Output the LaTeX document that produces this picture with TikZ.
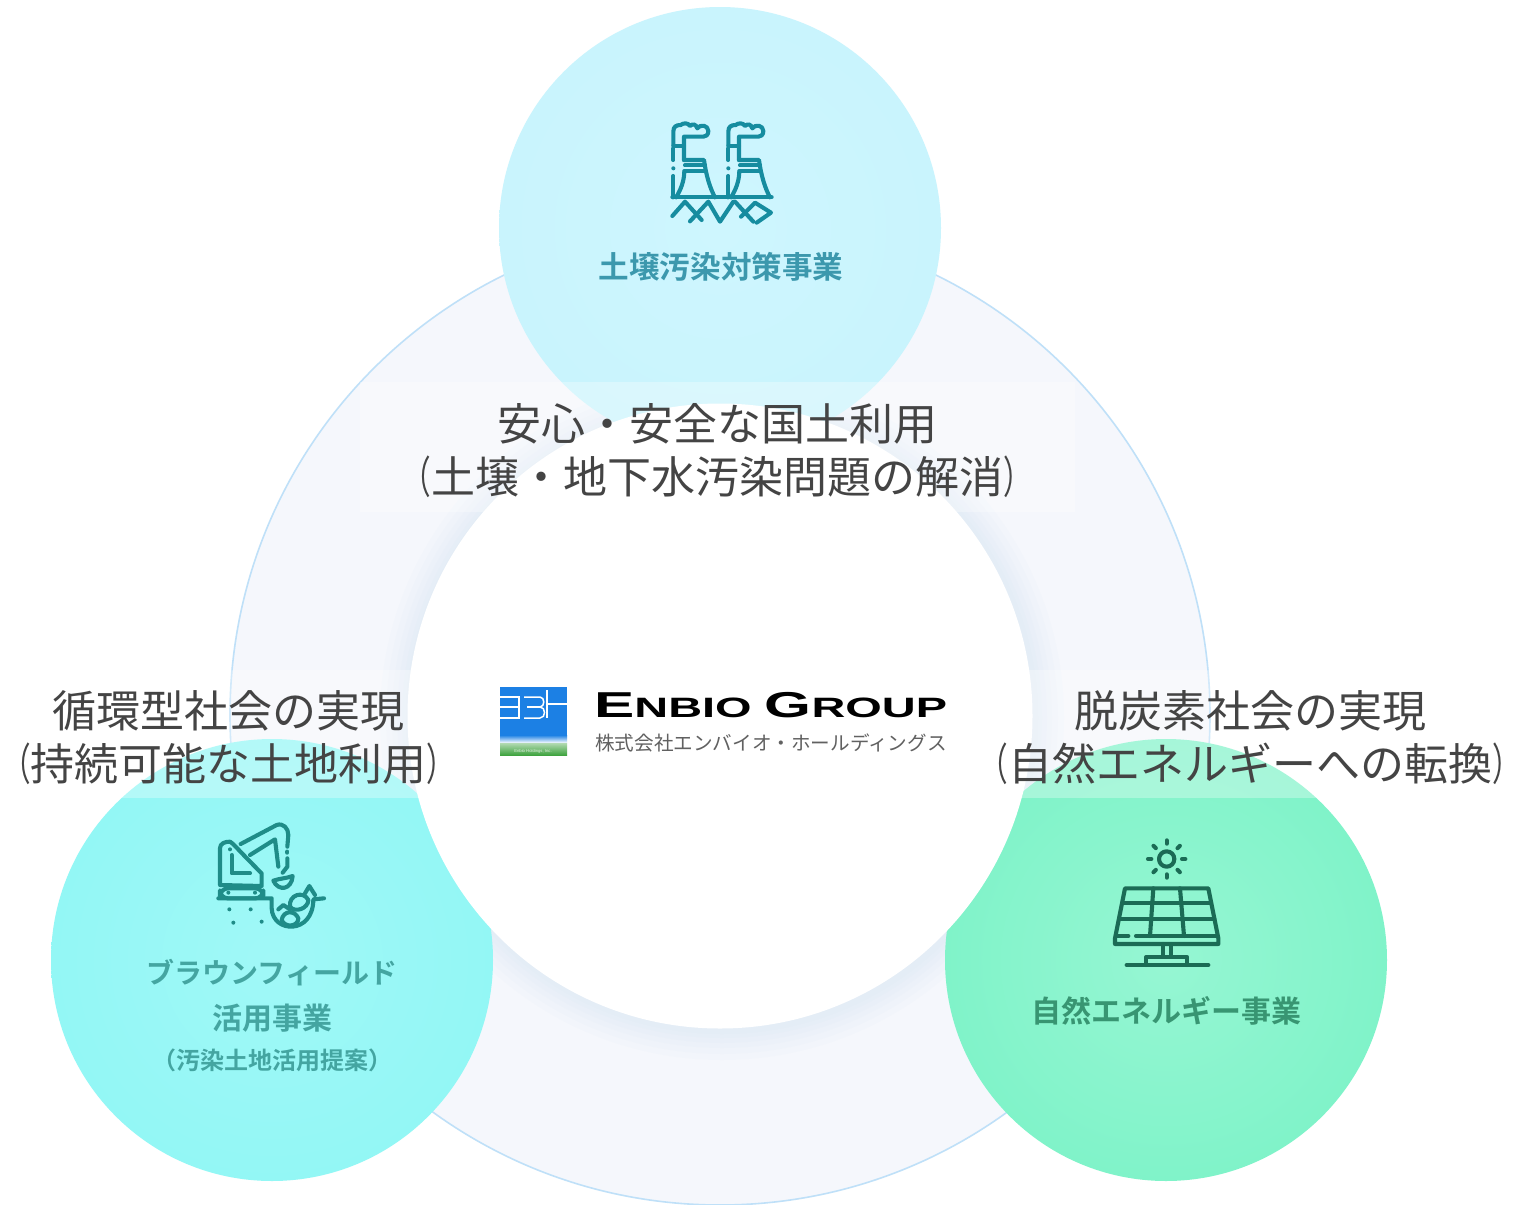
\documentclass[tikz,border=0pt]{standalone}
\usepackage{fontspec}
\usepackage{graphicx}
\setmainfont{Noto Sans CJK JP}
\newfontfamily\logofont{Liberation Sans}
\newfontfamily\labfont{Noto Sans CJK JP Bold}
\newcommand{\lpar}{\scalebox{.65}[1]{（}}
\newcommand{\rpar}{\scalebox{.65}[1]{）}}
\definecolor{ringfill}{HTML}{F5F7FC}
\definecolor{ringedge}{HTML}{BFE0F8}
\definecolor{topc}{HTML}{C9F4FD}
\definecolor{topcin}{HTML}{CEF6FE}
\definecolor{leftc}{HTML}{93F7F5}
\definecolor{leftcin}{HTML}{A0F8F7}
\definecolor{rightc}{HTML}{80F3C9}
\definecolor{rightcin}{HTML}{96F6D3}
\definecolor{topink}{HTML}{168C9F}
\definecolor{leftink}{HTML}{1F8C88}
\definecolor{rightink}{HTML}{1B6B55}
\definecolor{toptext}{HTML}{3C98AD}
\definecolor{lefttext}{HTML}{44A5A1}
\definecolor{righttext}{HTML}{389572}
\definecolor{maintext}{HTML}{444444}
\definecolor{glow}{HTML}{A8D0F5}
\definecolor{logoblue}{HTML}{1C80E4}
\definecolor{logogreen}{HTML}{3FA33F}
\tikzset{
  bigtext/.style={font=\fontsize{44}{53}\selectfont,text=maintext,align=center,inner sep=0pt},
  badge/.style={circle,minimum size=442pt,inner sep=0pt},
  icon/.style={line width=4.1pt,line cap=round,line join=round,fill=none},
  band/.style={fill=white,fill opacity=.3,draw=none},
  lab/.style={font=\labfont\fontsize{#1}{#1}\selectfont,inner sep=0pt},
  glowring/.style={fill=glow,fill opacity=.03,draw=none},
}
\begin{document}
\begin{tikzpicture}[x=1pt,y=-1pt]
\useasboundingbox (0,0) rectangle (1521,1205);
\fill[white] (0,0) rectangle (1521,1205);
% large ring
\node[circle,minimum size=980pt,inner sep=0pt,fill=ringfill,draw=ringedge,line width=1.6pt] (ring) at (720,715) {};
% soft shadow of the inner circle
\foreach \r in {342,336,330,325,320,316}{\fill[glowring] (722,718) circle[radius=\r];}
% badges
\node[badge,inner color=topcin,outer color=topc] (topb) at (720,228) {};
\node[badge,inner color=leftcin,outer color=leftc] (leftb) at (272,960) {};
\node[badge,inner color=rightcin,outer color=rightc] (rightb) at (1166,960) {};
% inner circle
\node[circle,minimum size=625pt,inner sep=0pt,fill=white] (core) at (720,716) {};
% bands
\fill[band] (360,382) rectangle (1075,512);
\fill[band] (0,670) rectangle (450,798);
\fill[band] (985,670) rectangle (1521,798);
% tower icon
\begin{scope}[shift={(640,100)},scale=1/3,topink,icon]
 \foreach \d in {0,165}{
  \begin{scope}[xshift=\d]
  \draw (100,135) -- (100,95) .. controls (100,80) and (108,75) .. (122,75) .. controls (130,68) and (145,68) .. (150,78) .. controls (158,70) and (168,72) .. (172,85) .. controls (180,72) and (205,75) .. (205,93) .. controls (205,105) and (198,110) .. (190,110) -- (132,110) -- (132,180);
  \draw (100,137) -- (132,137);
  \draw (100,145) -- (100,180);
  \draw (100,205) -- (100,205);
  \draw (100,228) -- (100,292);
  \draw (132,180) -- (192,180) .. controls (198,225) and (210,265) .. (225,292);
  \draw (135,196) -- (195,196);
  \draw (133,212) -- (197,212);
  \draw (133,215) .. controls (132,245) and (122,270) .. (108,292);
  \end{scope}}
 \draw (97,292) -- (395,292);
 \draw (97,348) -- (135,305) -- (185,360);
 \draw (150,364) -- (205,305) -- (240,365) -- (280,305);
 \draw (285,305) -- (340,365);
 \draw (303,350) -- (345,308) -- (393,338) -- (350,368);
\end{scope}
% excavator icon
\begin{scope}[shift={(200,810)},scale=1/3,leftink,icon]
 \draw (60,225) -- (60,115) .. controls (60,100) and (75,95) .. (90,95) .. controls (100,100) and (105,110) .. (185,190) -- (185,228) -- cycle;
 \draw (95,135) -- (95,190) -- (150,190);
 \fill (90,118) circle[radius=6];
 \draw (122,102) -- (230,45) .. controls (250,38) and (265,55) .. (265,75) -- (262,110);
 \draw (150,135) -- (225,88) -- (235,170);
 \draw (262,125) -- (262,128);
 \draw (262,145) -- (262,170) -- (248,188);
 \draw (220,212) .. controls (235,245) and (275,240) .. (278,198) .. controls (260,205) and (240,205) .. (220,212) -- cycle;
 \draw[rounded corners=8pt] (60,235) rectangle (190,265);
 \fill (85,248) circle[radius=6] (165,248) circle[radius=6];
 \draw (55,265) -- (215,265) -- (215,295) .. controls (218,370) and (340,375) .. (340,268) -- (372,265);
 \draw (235,298) -- (250,285) -- (270,298);
 \draw (270,290) .. controls (265,255) and (310,240) .. (325,270) .. controls (325,295) and (285,310) .. (270,290);
 \draw (315,250) -- (328,228) -- (345,255);
 \draw (245,330) .. controls (250,300) and (285,300) .. (295,325) .. controls (295,350) and (255,355) .. (245,330);
 \fill (88,298) circle[radius=6] (152,298) circle[radius=6] (100,338) circle[radius=6] (185,335) circle[radius=6];
\end{scope}
% solar icon
\begin{scope}[shift={(1100,830)},scale=1/3,rightink,icon]
 \draw (200,87) circle[radius=23];
 \foreach \a in {0,45,...,315}{\draw (200,87) ++(\a:46) -- ++(\a:10);}
 \draw (75,175) -- (325,175) -- (355,325) -- (355,342) -- (45,342) -- (45,325) -- cycle;
 \draw (72,220) -- (333,220);
 \draw (62,268) -- (343,268);
 \draw (52,318) -- (85,318);
 \draw (108,318) -- (350,318);
 \draw (160,175) -- (150,318);
 \draw (240,175) -- (252,318);
 \draw (188,342) -- (188,380);
 \draw (212,342) -- (212,380);
 \draw (138,405) -- (138,382) -- (262,382) -- (262,405);
 \draw (80,405) -- (325,405);
\end{scope}
% badge labels
\node[lab=30.6,text=toptext] (toplab) at (721,267) {土壌汚染対策事業};
\node[lab=28,text=lefttext] (leftlab1) at (272,973) {ブラウンフィールド};
\node[lab=30,text=lefttext] (leftlab2) at (272,1018) {活用事業};
\node[lab=24,text=lefttext] (leftlab3) at (272,1060) {（汚染土地活用提案）};
\node[lab=30,text=righttext] (rightlab) at (1166,1011) {自然エネルギー事業};
% big labels
\node[bigtext] (toptxt) at (717,451) {安心・安全な国土利用\\\lpar 土壌・地下水汚染問題の解消\rpar};
\node[bigtext] (lefttxt) at (229,738) {循環型社会の実現\\\lpar 持続可能な土地利用\rpar};
\node[bigtext] (righttxt) at (1250,738) {脱炭素社会の実現\\\lpar 自然エネルギーへの転換\rpar};
% logo
\fill[logoblue] (500,687) rectangle (567,735);
\shade[top color=logoblue,bottom color=white] (500,735) rectangle (567,743);
\shade[top color=white!60!logogreen,bottom color=logogreen] (500,743) rectangle (567,755);
\begin{scope}[white,line width=1.5pt]
 \draw (500,697) -- (519,697) -- (519,718) -- (500,718);
 \draw (500,707) -- (519,707);
 \draw (524,697) -- (540,697) .. controls (545,697) and (545,707) .. (540,707) .. controls (546,707) and (546,718) .. (540,718) -- (524,718);
 \draw (527,707) -- (540,707);
 \draw (547,690) -- (547,718);
 \draw (547,704) -- (567,704);
\end{scope}
\node[inner sep=0pt,text=white!85!logogreen,font=\logofont\fontsize{4.2}{5}\selectfont] (logoc) at (533,751) {Enbio Holdings, Inc.};
\node[inner sep=0pt,anchor=west] (logoa) at (594,705) {\logofont\bfseries\scalebox{1.675}[1]{\fontsize{36}{36}\selectfont E\fontsize{28}{28}\selectfont NBIO\ \fontsize{36}{36}\selectfont G\fontsize{28}{28}\selectfont ROUP}};
\node[inner sep=0pt,anchor=west,text=black!62] (logob) at (595,743) {\fontsize{19.6}{20}\selectfont 株式会社エンバイオ・ホールディングス};
\end{tikzpicture}
\end{document}
